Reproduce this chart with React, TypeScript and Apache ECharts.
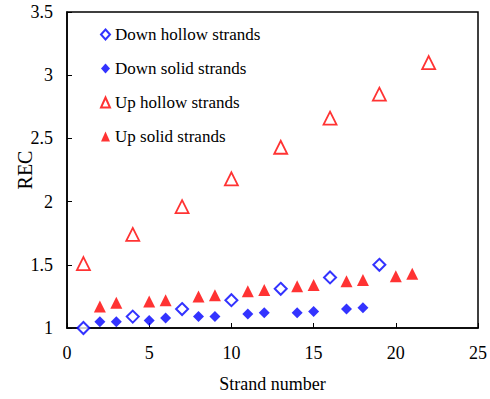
import React, { useEffect, useRef } from "react";
import * as echarts from "echarts";

const downHollowX = [1, 4, 7, 10, 13, 16, 19];
const downHollowY = [1.0, 1.09, 1.15, 1.22, 1.31, 1.4, 1.5];
const downSolidX = [2, 3, 5, 6, 8, 9, 11, 12, 14, 15, 17, 18];
const downSolidY = [1.05, 1.05, 1.06, 1.08, 1.09, 1.09, 1.11, 1.12, 1.12, 1.13, 1.15, 1.16];
const upHollowX = [1, 4, 7, 10, 13, 16, 19, 22];
const upHollowY = [1.51, 1.74, 1.96, 2.18, 2.43, 2.66, 2.85, 3.1];
const upSolidX = [2, 3, 5, 6, 8, 9, 11, 12, 14, 15, 17, 18, 20, 21];
const upSolidY = [1.17, 1.2, 1.21, 1.22, 1.25, 1.26, 1.29, 1.3, 1.33, 1.34, 1.37, 1.38, 1.41, 1.43];

const seriesNames = ["Down hollow strands", "Down solid strands", "Up hollow strands", "Up solid strands"];

const zip = (xs: number[], ys: number[]) => xs.map((x, i) => [x, ys[i]]);

const FONT = "Liberation Serif";

export default function App() {
  const ref = useRef<HTMLDivElement>(null);
  useEffect(() => {
    if (!ref.current) return;
    const chart = echarts.init(ref.current, undefined, { renderer: "svg" });
    chart.setOption({
      animation: false,
      backgroundColor: "#fff",
      textStyle: { fontFamily: FONT },
      grid: {
        left: 67,
        right: 12,
        top: 12,
        bottom: 71,
        show: true,
        borderColor: "#000",
        borderWidth: 1.5,
        containLabel: false,
        outerBoundsMode: "none",
      },
      legend: {
        orient: "vertical",
        left: 95,
        top: 21,
        itemGap: 17,
        itemWidth: 9,
        itemHeight: 10,
        itemTextGap: 4,
        textStyle: { fontFamily: FONT, fontSize: 17, color: "#000" },
        data: seriesNames,
      },
      xAxis: {
        type: "value",
        min: 0,
        max: 25,
        interval: 5,
        name: "Strand number",
        nameLocation: "middle",
        nameGap: 47,
        nameMoveOverlap: false,
        nameTextStyle: { fontFamily: FONT, fontSize: 18, color: "#000" },
        axisLine: { lineStyle: { color: "#000", width: 1.5 } },
        axisTick: { inside: true, length: 5, lineStyle: { color: "#000" } },
        axisLabel: { fontFamily: FONT, fontSize: 18, color: "#000", margin: 16 },
        splitLine: { show: false },
      },
      yAxis: {
        type: "value",
        min: 1,
        max: 3.5,
        interval: 0.5,
        name: "REC",
        nameLocation: "middle",
        nameGap: 32,
        nameRotate: 90,
        nameMoveOverlap: false,
        nameTextStyle: { fontFamily: FONT, fontSize: 20, color: "#000" },
        axisLine: { lineStyle: { color: "#000", width: 1.5 } },
        axisTick: { inside: true, length: 5, lineStyle: { color: "#000" } },
        axisLabel: { fontFamily: FONT, fontSize: 18, color: "#000", margin: 14 },
        splitLine: { show: false },
      },
      series: [
        {
          name: seriesNames[0],
          type: "scatter",
          symbol: "diamond",
          symbolSize: 12,
          itemStyle: { color: "#fff", borderColor: "#0000ff", borderWidth: 2 },
          data: zip(downHollowX, downHollowY),
        },
        {
          name: seriesNames[1],
          type: "scatter",
          symbol: "diamond",
          symbolSize: 11,
          itemStyle: { color: "#0000ff" },
          data: zip(downSolidX, downSolidY),
        },
        {
          name: seriesNames[2],
          type: "scatter",
          symbol: "triangle",
          symbolSize: 13,
          itemStyle: { color: "#fff", borderColor: "#ff0000", borderWidth: 1.8 },
          data: zip(upHollowX, upHollowY),
        },
        {
          name: seriesNames[3],
          type: "scatter",
          symbol: "triangle",
          symbolSize: 12,
          itemStyle: { color: "#ff0000" },
          data: zip(upSolidX, upSolidY),
        },
      ],
    });
    return () => chart.dispose();
  }, []);
  return <div ref={ref} style={{ width: 490, height: 399, position: "absolute", left: 0, top: 0 }} />;
}
